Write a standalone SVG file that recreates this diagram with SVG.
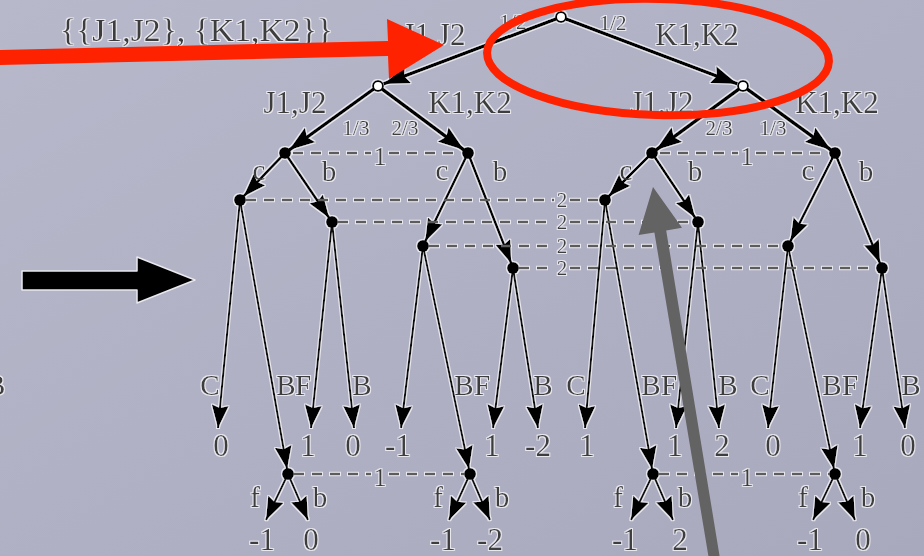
<svg xmlns="http://www.w3.org/2000/svg" width="924" height="556" viewBox="0 0 924 556">
<defs>
<linearGradient id="bg" x1="0" y1="0" x2="1" y2="1">
<stop offset="0" stop-color="#b8b8cb"/>
<stop offset="1" stop-color="#a9a9be"/>
</linearGradient>
<filter id="halo" filterUnits="userSpaceOnUse" x="-20" y="-20" width="964" height="596">
<feMorphology in="SourceAlpha" operator="dilate" radius="1.3" result="d"/>
<feGaussianBlur in="d" stdDeviation="0.7" result="b"/>
<feFlood flood-color="#f2f2f6" flood-opacity="0.85"/>
<feComposite in2="b" operator="in" result="h"/>
<feMerge><feMergeNode in="h"/><feMergeNode in="SourceGraphic"/></feMerge>
</filter>
<marker id="ah1" markerUnits="userSpaceOnUse" markerWidth="26" markerHeight="18" refX="26" refY="9" orient="auto"><path d="M0,0 L26,9 L0,18 L4,9 z" fill="#000"/></marker>
<marker id="ah2" markerUnits="userSpaceOnUse" markerWidth="23" markerHeight="16" refX="23" refY="8" orient="auto"><path d="M0,0 L23,8 L0,16 L3,8 z" fill="#000"/></marker>
<marker id="ah3" markerUnits="userSpaceOnUse" markerWidth="23" markerHeight="17" refX="23" refY="8.5" orient="auto"><path d="M0,0 L23,8.5 L0,17 L3,8.5 z" fill="#000"/></marker>
</defs>
<style>
.t{font-family:"Liberation Serif","Times New Roman",serif;fill:#3c3c3c;text-anchor:middle}
.big{font-size:31px}
.lab{font-size:29px}
.fr{font-size:21px}
.isl{font-size:26px}
.isl2{font-size:21px}
.e1{stroke:#000;stroke-width:3.5;fill:none;marker-end:url(#ah1)}
.e2{stroke:#000;stroke-width:2.6;fill:none;marker-end:url(#ah2)}
.e3{stroke:#111;stroke-width:2.1;fill:none;marker-end:url(#ah3)}
.dash{stroke:#5c5c5c;stroke-width:2.6;stroke-dasharray:10 8;fill:none}
.dot{fill:#000}
.open{fill:#fff;stroke:#000;stroke-width:2}
</style>
<rect width="924" height="556" fill="url(#bg)"/>

<g filter="url(#halo)">
<g id="connectors">
<path class="e1" d="M556.3,18.8 L383.6,83.9"/>
<path class="e1" d="M565.7,18.8 L737.4,83.9"/>
<path class="e1" d="M373.9,88.9 L289.1,150.1"/>
<path class="e1" d="M382,89 L464,150"/>
<path class="e1" d="M739,89 L656,150"/>
<path class="e1" d="M747,89 L831,150"/>
<path class="e2" d="M285,153 L243.5,196.4"/>
<path class="e2" d="M285,153 L329.2,217.9"/>
<path class="e2" d="M468,153 L425.2,241.5"/>
<path class="e2" d="M468,153 L511.2,263.3"/>
<path class="e2" d="M652,153 L608.5,196.5"/>
<path class="e2" d="M652,153 L695.2,217.8"/>
<path class="e2" d="M835,153 L790.3,241.5"/>
<path class="e2" d="M835,153 L880.1,263.4"/>
<path class="e3" d="M240,200 L218,428"/>
<path class="e3" d="M240,200 L287.1,469"/>
<path class="e3" d="M332,222 L311,428"/>
<path class="e3" d="M332,222 L354,428"/>
<path class="e3" d="M423,246 L401,428"/>
<path class="e3" d="M423,246 L469,469"/>
<path class="e3" d="M513,268 L493,428"/>
<path class="e3" d="M513,268 L538,428"/>
<path class="e3" d="M605,200 L585,428"/>
<path class="e3" d="M605,200 L652.1,469"/>
<path class="e3" d="M698,222 L676,428"/>
<path class="e3" d="M698,222 L719,428"/>
<path class="e3" d="M788,246 L768,428"/>
<path class="e3" d="M788,246 L834,469"/>
<path class="e3" d="M882,268 L860,428"/>
<path class="e3" d="M882,268 L905,428"/>
<path class="e3" d="M288,474 L266,520"/>
<path class="e3" d="M288,474 L308,520"/>
<path class="e3" d="M470,474 L449,520"/>
<path class="e3" d="M470,474 L490,520"/>
<path class="e3" d="M653,474 L631,520"/>
<path class="e3" d="M653,474 L673,520"/>
<path class="e3" d="M835,474 L813,520"/>
<path class="e3" d="M835,474 L855,520"/>
<g id="infosets">
<path class="dash" d="M293,153 H371 M389,153 H461"/>
<path class="dash" d="M660,153 H738 M756,153 H828"/>
<path class="dash" d="M246,200 H554 M570,200 H600"/>
<path class="dash" d="M338,222 H554 M570,222 H692"/>
<path class="dash" d="M429,246 H554 M570,246 H782"/>
<path class="dash" d="M519,268 H554 M570,268 H876"/>
<path class="dash" d="M294,474 H371 M389,474 H464"/>
<path class="dash" d="M659,474 H738 M756,474 H829"/>
<text class="t isl" x="380" y="165">1</text>
<text class="t isl" x="747" y="165">1</text>
<text class="t isl2" x="562" y="207">2</text>
<text class="t isl2" x="562" y="229">2</text>
<text class="t isl2" x="562" y="253">2</text>
<text class="t isl2" x="562" y="275">2</text>
<text class="t isl" x="380" y="486">1</text>
<text class="t isl" x="747" y="486">1</text>
</g>
</g>

<g id="root"><circle class="open" cx="561" cy="17" r="5"/></g>
<g id="chance-left"><circle class="open" cx="378" cy="86" r="5"/></g>
<g id="chance-right"><circle class="open" cx="743" cy="86" r="5"/></g>
<g id="p1-a"><circle class="dot" cx="285" cy="153" r="6"/></g>
<g id="p1-b"><circle class="dot" cx="468" cy="153" r="6"/></g>
<g id="p1-c"><circle class="dot" cx="652" cy="153" r="6"/></g>
<g id="p1-d"><circle class="dot" cx="835" cy="153" r="6"/></g>
<g id="p2-a"><circle class="dot" cx="240" cy="200" r="6"/></g>
<g id="p2-b"><circle class="dot" cx="332" cy="222" r="6"/></g>
<g id="p2-c"><circle class="dot" cx="423" cy="246" r="6"/></g>
<g id="p2-d"><circle class="dot" cx="513" cy="268" r="6"/></g>
<g id="p2-e"><circle class="dot" cx="605" cy="200" r="6"/></g>
<g id="p2-f"><circle class="dot" cx="698" cy="222" r="6"/></g>
<g id="p2-g"><circle class="dot" cx="788" cy="246" r="6"/></g>
<g id="p2-h"><circle class="dot" cx="882" cy="268" r="6"/></g>
<g id="p1b-a"><circle class="dot" cx="288" cy="474" r="6"/></g>
<g id="p1b-b"><circle class="dot" cx="470" cy="474" r="6"/></g>
<g id="p1b-c"><circle class="dot" cx="653" cy="474" r="6"/></g>
<g id="p1b-d"><circle class="dot" cx="835" cy="474" r="6"/></g>

<g id="labels">
<text class="t big" x="60" y="41" style="text-anchor:start" textLength="273" lengthAdjust="spacingAndGlyphs">{{J1,J2}, {K1,K2}}</text>
<text class="t big" x="434" y="45">J1,J2</text>
<text class="t fr" x="513" y="29">1/2</text>
<text class="t fr" x="613" y="30">1/2</text>
<text class="t big" x="697" y="45">K1,K2</text>
<text class="t big" x="295" y="113">J1,J2</text>
<text class="t fr" x="356" y="135">1/3</text>
<text class="t fr" x="405" y="135">2/3</text>
<text class="t big" x="470" y="113">K1,K2</text>
<text class="t big" x="662" y="113">J1,J2</text>
<text class="t fr" x="719" y="135">2/3</text>
<text class="t fr" x="773" y="135">1/3</text>
<text class="t big" x="837" y="113">K1,K2</text>
<text class="t lab" x="259" y="180">c</text>
<text class="t lab" x="329" y="181">b</text>
<text class="t lab" x="442" y="180">c</text>
<text class="t lab" x="500" y="181">b</text>
<text class="t lab" x="626" y="180">c</text>
<text class="t lab" x="695" y="181">b</text>
<text class="t lab" x="808" y="180">c</text>
<text class="t lab" x="866" y="181">b</text>
<text class="t lab" x="210" y="395">C</text>
<text class="t lab" x="286" y="395">B</text>
<text class="t lab" x="303" y="395">F</text>
<text class="t lab" x="362" y="395">B</text>
<text class="t lab" x="464" y="395">B</text>
<text class="t lab" x="482" y="395">F</text>
<text class="t lab" x="543" y="395">B</text>
<text class="t lab" x="576" y="395">C</text>
<text class="t lab" x="651" y="395">B</text>
<text class="t lab" x="669" y="395">F</text>
<text class="t lab" x="728" y="395">B</text>
<text class="t lab" x="760" y="395">C</text>
<text class="t lab" x="832" y="395">B</text>
<text class="t lab" x="850" y="395">F</text>
<text class="t lab" x="911" y="395">B</text>
<text class="t big" x="221" y="456">0</text>
<text class="t big" x="308" y="456">1</text>
<text class="t big" x="353" y="456">0</text>
<text class="t big" x="398" y="456">-1</text>
<text class="t big" x="492" y="456">1</text>
<text class="t big" x="538" y="456">-2</text>
<text class="t big" x="587" y="456">1</text>
<text class="t big" x="675" y="456">1</text>
<text class="t big" x="722" y="456">2</text>
<text class="t big" x="773" y="456">0</text>
<text class="t big" x="860" y="456">1</text>
<text class="t big" x="908" y="456">0</text>
<text class="t lab" x="255" y="507">f</text>
<text class="t lab" x="320" y="507">b</text>
<text class="t lab" x="438" y="507">f</text>
<text class="t lab" x="502" y="507">b</text>
<text class="t lab" x="618" y="507">f</text>
<text class="t lab" x="685" y="507">b</text>
<text class="t lab" x="803" y="507">f</text>
<text class="t lab" x="868" y="507">b</text>
<text class="t big" x="262" y="550">-1</text>
<text class="t big" x="311" y="550">0</text>
<text class="t big" x="443" y="550">-1</text>
<text class="t big" x="490" y="550">-2</text>
<text class="t big" x="625" y="550">-1</text>
<text class="t big" x="680" y="550">2</text>
<text class="t big" x="810" y="550">-1</text>
<text class="t big" x="863" y="550">0</text>
<text class="t lab" x="-14" y="395" style="text-anchor:start">B</text>
</g>
</g>

<g id="annotations">
<polygon points="22,271 137,271 137,257 195,280 137,303 137,290 22,290" fill="#000" stroke="#e8e8ee" stroke-width="1.5" stroke-linejoin="round"/>
<polygon points="0,50 388,41 387,19 444,45 389,79 388,56 0,65" fill="#ff2200"/>
<ellipse cx="658" cy="57" rx="171" ry="58" fill="none" stroke="#ff2200" stroke-width="8" transform="rotate(1.5 658 57)"/>
<polygon points="654.4,232.4 638.6,235 653,187 682,227.8 666.2,230.4 721.7,569 710.9,571" fill="#636363"/>
</g>
</svg>
